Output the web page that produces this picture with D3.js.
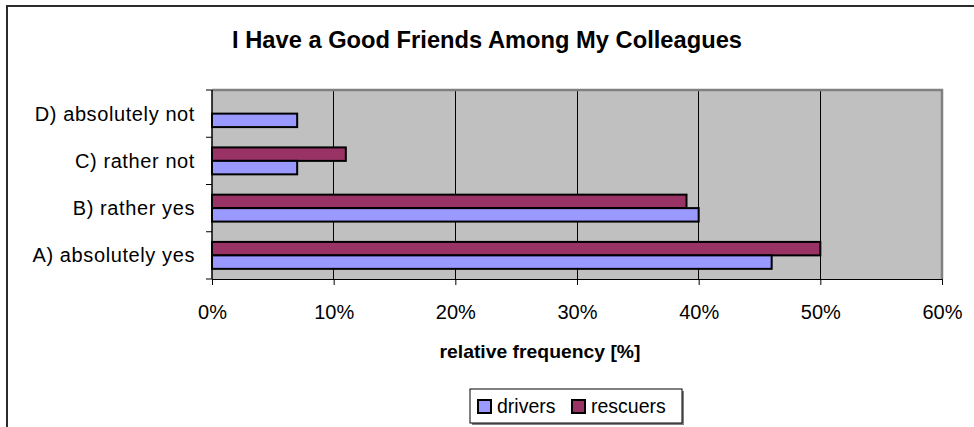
<!DOCTYPE html>
<html><head><meta charset="utf-8">
<script src="https://cdn.jsdelivr.net/npm/d3@7/dist/d3.min.js"></script>
<style>
body{margin:0;background:#fff}
svg{display:block}
text{font-family:"Liberation Sans",Arial,sans-serif;fill:#000}
</style></head>
<body><svg id="chart" width="974" height="427"></svg>
<script>
const titleText = "I Have a Good Friends Among My Colleagues";
const axisTitle = "relative frequency [%]";
const categories = ["A) absolutely yes", "B) rather yes", "C) rather not", "D) absolutely not"];
const seriesNames = ["drivers", "rescuers"];
const drivers = [46, 40, 7, 7];
const rescuers = [50, 39, 11, 0];
const xTicks = [0, 10, 20, 30, 40, 50, 60];
const colors = {drivers: "#9999FF", rescuers: "#993366"};

const svg = d3.select("#chart");
const plot = {left: 212, right: 942, top: 90, bottom: 279};

// outer chart border
svg.append("rect").attr("x", 7).attr("y", 6).attr("width", 1100).attr("height", 600)
  .attr("fill", "none").attr("stroke", "#2b2b2b").attr("stroke-width", 2);

// title
svg.append("text").attr("x", 487).attr("y", 48).attr("text-anchor", "middle")
  .attr("textLength", 510).attr("lengthAdjust", "spacingAndGlyphs")
  .style("font-weight", "bold").style("font-size", "24.5px").text(titleText);

const x = d3.scaleLinear().domain([0, 60]).range([plot.left, plot.right]);
const y = d3.scaleBand().domain(categories).range([plot.bottom, plot.top])
  .paddingInner(0.43).paddingOuter(0.215);
const ySub = d3.scaleBand().domain(["rescuers", "drivers"]).range([0, y.bandwidth()]);

// plot background
svg.append("rect").attr("x", plot.left).attr("y", plot.top)
  .attr("width", plot.right - plot.left).attr("height", plot.bottom - plot.top)
  .attr("fill", "#C0C0C0");

// gridlines
svg.append("g").selectAll("line").data(xTicks.filter(d => d > 0 && d < 60)).join("line")
  .attr("x1", d => x(d)).attr("x2", d => x(d))
  .attr("y1", plot.top).attr("y2", plot.bottom)
  .attr("stroke", "#000").attr("stroke-width", 1).attr("shape-rendering", "crispEdges");

// plot border (gray, top and right)
svg.append("path")
  .attr("d", `M${plot.left},${plot.top}H${plot.right}V${plot.bottom}`)
  .attr("fill", "none").attr("stroke", "#808080").attr("stroke-width", 2.5);

// bars
const rows = [];
categories.forEach((c, i) => {
  rows.push({cat: c, series: "rescuers", value: rescuers[i]});
  rows.push({cat: c, series: "drivers", value: drivers[i]});
});
svg.append("g").selectAll("rect").data(rows.filter(d => d.value > 0)).join("rect")
  .attr("x", x(0))
  .attr("y", d => y(d.cat) + ySub(d.series))
  .attr("width", d => x(d.value) - x(0))
  .attr("height", ySub.bandwidth())
  .attr("fill", d => colors[d.series])
  .attr("stroke", "#000").attr("stroke-width", 2);

// x axis
const xAxis = d3.axisBottom(x).tickValues(xTicks).tickFormat(d => d + "%").tickSize(6).tickPadding(20);
const gx = svg.append("g").attr("transform", `translate(0,${plot.bottom})`).call(xAxis);
gx.select(".domain").attr("stroke", "#000");
gx.selectAll(".tick line").attr("stroke", "#000");
gx.selectAll(".tick text").style("font-size", "20px").style("font-family", "Liberation Sans, Arial, sans-serif");

// y axis line + boundary ticks
const step = y.step();
svg.append("line").attr("x1", plot.left).attr("x2", plot.left)
  .attr("y1", plot.top).attr("y2", plot.bottom).attr("stroke", "#000").attr("stroke-width", 1.5);
svg.append("g").selectAll("line").data(d3.range(categories.length + 1)).join("line")
  .attr("x1", plot.left - 6).attr("x2", plot.left)
  .attr("y1", i => plot.bottom - i * step).attr("y2", i => plot.bottom - i * step)
  .attr("stroke", "#000").attr("stroke-width", 1);
svg.append("g").selectAll("text").data(categories).join("text")
  .attr("x", 195).attr("y", d => y(d) + y.bandwidth() / 2)
  .attr("dy", "0.35em").attr("text-anchor", "end")
  .style("font-size", "20px").style("letter-spacing", "0.6px")
  .text(d => d);

// axis title
svg.append("text").attr("x", 540).attr("y", 358).attr("text-anchor", "middle")
  .attr("textLength", 201).attr("lengthAdjust", "spacingAndGlyphs")
  .style("font-weight", "bold").style("font-size", "19px").text(axisTitle);

// legend
const lg = svg.append("g");
lg.append("rect").attr("x", 472).attr("y", 391).attr("width", 212).attr("height", 34).attr("fill", "#808080");
lg.append("rect").attr("x", 470).attr("y", 389).attr("width", 212).attr("height", 34)
  .attr("fill", "#fff").attr("stroke", "#000").attr("stroke-width", 1);
const legendX = [478, 572];
seriesNames.forEach((s, i) => {
  lg.append("rect").attr("x", legendX[i]).attr("y", 400).attr("width", 13).attr("height", 13)
    .attr("fill", colors[s]).attr("stroke", "#000").attr("stroke-width", 2);
  lg.append("text").attr("x", legendX[i] + 19).attr("y", 413).style("font-size", "19.5px").text(s);
});
</script></body></html>
